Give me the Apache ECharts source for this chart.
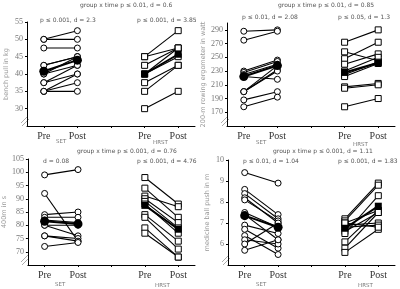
<!DOCTYPE html>
<html>
<head>
<meta charset="utf-8">
<script src="https://cdn.jsdelivr.net/npm/echarts@6/dist/echarts.min.js"></script>
<style>html,body{margin:0;padding:0;background:#fff}#chart{width:400px;height:289px}</style>
</head>
<body>
<div id="chart"></div>
<script>
const categories = ['Pre', 'Post', '', 'Pre', 'Post'];

// bench pull in kg
const benchTicks = [30, 35, 40, 45, 50, 55];
const benchSetPre = [50, 50, 47.5, 42.5, 42.5, 40, 40, 37.5, 37.5, 35, 35, 35];
const benchSetPost = [52.5, 50, 47.5, 45, 45, 42.5, 45, 42.5, 40, 40, 37.5, 35];
const benchHrstPre = [45, 45, 42.5, 40, 40, 37.5, 35, 30];
const benchHrstPost = [52.5, 47.5, 47.5, 45, 47.5, 42.5, 42.5, 35];
const benchMeans = [40.8, 44, 40, 45.7];

// 200-m rowing ergometer in watt
const rowTicks = [170, 190, 210, 230, 250, 270, 290];
const rowSetPre = [288, 275, 230, 228, 225, 222, 200, 200, 200, 188, 178];
const rowSetPost = [290, 288, 246, 244, 240, 218, 238, 232, 230, 200, 192];
const rowHrstPre = [272, 258, 248, 240, 230, 225, 222, 207, 205, 178];
const rowHrstPost = [290, 245, 272, 255, 250, 243, 241, 212, 210, 190];
const rowMeans = [222, 238, 228, 242];

// 400m in s
const runTicks = [70, 75, 80, 85, 90, 95, 100, 105];
const runSetPre = [99, 92, 84, 83, 82, 80, 80, 76, 76, 72];
const runSetPost = [101, 74, 85, 83, 81, 80, 76, 75, 74, 73.5];
const runHrstPre = [98, 94, 91, 90, 89, 88, 84, 83, 79, 77];
const runHrstPost = [88, 83, 87, 81, 79, 77, 74, 71, 68, 68];
const runMeans = [81.5, 80.5, 87.5, 78.5];

// medicine ball push in m
const ballTicks = [6, 7, 8, 9, 10];
const ballSetPre = [9.4, 8.6, 8.4, 8.2, 8.1, 7.5, 7.4, 6.9, 6.7, 6.4, 6.2, 6.0, 5.7];
const ballSetPost = [8.9, 7.4, 7.2, 7.0, 7.1, 6.8, 6.2, 6.5, 5.8, 5.5, 6.0, 7.0, 6.2];
const ballHrstPre = [7.2, 7.1, 7.0, 6.9, 6.8, 6.6, 6.5, 6.1, 5.8, 5.6, 7.0];
const ballHrstPost = [8.9, 8.8, 7.6, 7.0, 6.9, 7.5, 8.3, 7.6, 7.5, 6.7, 6.8];
const ballMeans = [7.35, 6.8, 6.75, 7.8];

const panels = [
  { name: 'bench pull in kg', grid: { left: 27, top: 22, width: 168, height: 104 },
    min: 25, max: 55, ticks: benchTicks,
    sp: benchSetPre, so: benchSetPost, hp: benchHrstPre, ho: benchHrstPost, m: benchMeans },
  { name: '200-m rowing ergometer in watt', grid: { left: 227, top: 23, width: 168, height: 103 },
    min: 150, max: 300, ticks: rowTicks,
    sp: rowSetPre, so: rowSetPost, hp: rowHrstPre, ho: rowHrstPost, m: rowMeans },
  { name: '400m in s', grid: { left: 27, top: 159, width: 168, height: 106 },
    min: 65, max: 105, ticks: runTicks,
    sp: runSetPre, so: runSetPost, hp: runHrstPre, ho: runHrstPost, m: runMeans },
  { name: 'medicine ball push in m', grid: { left: 228, top: 160, width: 167, height: 105 },
    min: 5, max: 10, ticks: ballTicks,
    sp: ballSetPre, so: ballSetPost, hp: ballHrstPre, ho: ballHrstPost, m: ballMeans }
];

const grids = [], xAxes = [], yAxes = [], series = [];
panels.forEach((p, i) => {
  grids.push(p.grid);
  xAxes.push({
    type: 'category', gridIndex: i, data: categories, boundaryGap: true,
    axisLine: { lineStyle: { color: '#000', width: 1 } },
    axisTick: { show: true, alignWithLabel: true, interval: 0, length: 2, lineStyle: { color: '#000' } },
    axisLabel: { color: '#333', fontFamily: 'Liberation Serif', fontWeight: 'normal', fontSize: 10, margin: 5, interval: 0 }
  });
  yAxes.push({
    type: 'value', gridIndex: i, min: p.min, max: p.max,
    name: p.name, nameLocation: 'middle', nameGap: 17,
    nameTextStyle: { color: '#999', fontSize: 6.5, fontFamily: 'DejaVu Sans' },
    splitLine: { show: false },
    axisLine: { show: true, lineStyle: { color: '#000', width: 1 } },
    axisTick: { show: true, customValues: p.ticks, length: 2, lineStyle: { color: '#000' } },
    axisLabel: {
      customValues: p.ticks,
      color: '#777', fontFamily: 'Liberation Serif', fontSize: 8, margin: 4
    }
  });
  const addGroup = (pre, post, x0, symbol) => {
    pre.forEach((v, k) => {
      series.push({
        type: 'line', xAxisIndex: i, yAxisIndex: i,
        data: [[x0, v], [x0 + 1, post[k]]],
        symbol: symbol, symbolSize: 6, showSymbol: true,
        lineStyle: { color: '#000', width: 1.1 },
        itemStyle: { color: '#fff', borderColor: '#000', borderWidth: 1 },
        silent: true, animation: false, z: 2
      });
    });
  };
  addGroup(p.sp, p.so, 0, 'circle');
  addGroup(p.hp, p.ho, 3, 'rect');
  series.push({
    type: 'line', xAxisIndex: i, yAxisIndex: i,
    data: [[0, p.m[0]], [1, p.m[1]]], symbol: 'circle', symbolSize: 9,
    lineStyle: { color: '#000', width: 2 }, itemStyle: { color: '#000' },
    animation: false, z: 5
  });
  series.push({
    type: 'line', xAxisIndex: i, yAxisIndex: i,
    data: [[3, p.m[2]], [4, p.m[3]]], symbol: 'rect', symbolSize: 7,
    lineStyle: { color: '#000', width: 2 }, itemStyle: { color: '#000' },
    animation: false, z: 5
  });
});

const txt = (x, y, text, size, color) => ({
  type: 'text', left: x, top: y,
  style: { text: text, fontSize: size, fill: color || '#555', fontFamily: 'DejaVu Sans' }
});
const breakMark = (x, y) => ({
  type: 'group', children: [
    { type: 'line', shape: { x1: x - 6, y1: y + 4, x2: x + 1, y2: y - 3 }, style: { stroke: '#888', lineWidth: 0.7 } },
    { type: 'line', shape: { x1: x - 5, y1: y + 7, x2: x + 2, y2: y } , style: { stroke: '#888', lineWidth: 0.7 } }
  ]
});

const graphics = [
  txt(80, 2, 'group x time p \u2264 0.01, d = 0.6', 6),
  txt(40, 17, 'p \u2264 0.001, d = 2.3', 6),
  txt(137, 17, 'p \u2264 0.001, d = 3.85', 6),
  txt(56, 139, 'SET', 5.5, '#777'),
  txt(153, 140, 'HRST', 5.5, '#777'),
  txt(278, 2, 'group x time p \u2264 0.01, d = 0.85', 6),
  txt(242, 14, 'p \u2264 0.01, d = 2.08', 6),
  txt(338, 14, 'p \u2264 0.05, d = 1.3', 6),
  txt(256, 140, 'SET', 5.5, '#777'),
  txt(353, 142, 'HRST', 5.5, '#777'),
  txt(77, 148, 'group x time p \u2264 0.001, d = 0.76', 6),
  txt(43, 158, 'd = 0.08', 6),
  txt(137, 158, 'p \u2264 0.001, d = 4.76', 6),
  txt(55, 282, 'SET', 5.5, '#777'),
  txt(155, 283, 'HRST', 5.5, '#777'),
  txt(273, 148, 'group x time p \u2264 0.001, d = 1.11', 6),
  txt(243, 158, 'p \u2264 0.01, d = 1.04', 6),
  txt(338, 158, 'p \u2264 0.001, d = 1.83', 6),
  txt(256, 282, 'SET', 5.5, '#777'),
  txt(358, 283, 'HRST', 5.5, '#777'),
  breakMark(27, 119),
  breakMark(227, 119),
  breakMark(27, 258),
  breakMark(228, 258)
];

const chart = echarts.init(document.getElementById('chart'), null, { renderer: 'canvas' });
chart.setOption({
  backgroundColor: '#fff',
  animation: false,
  grid: grids,
  xAxis: xAxes,
  yAxis: yAxes,
  series: series,
  graphic: graphics
});
</script>
</body>
</html>
